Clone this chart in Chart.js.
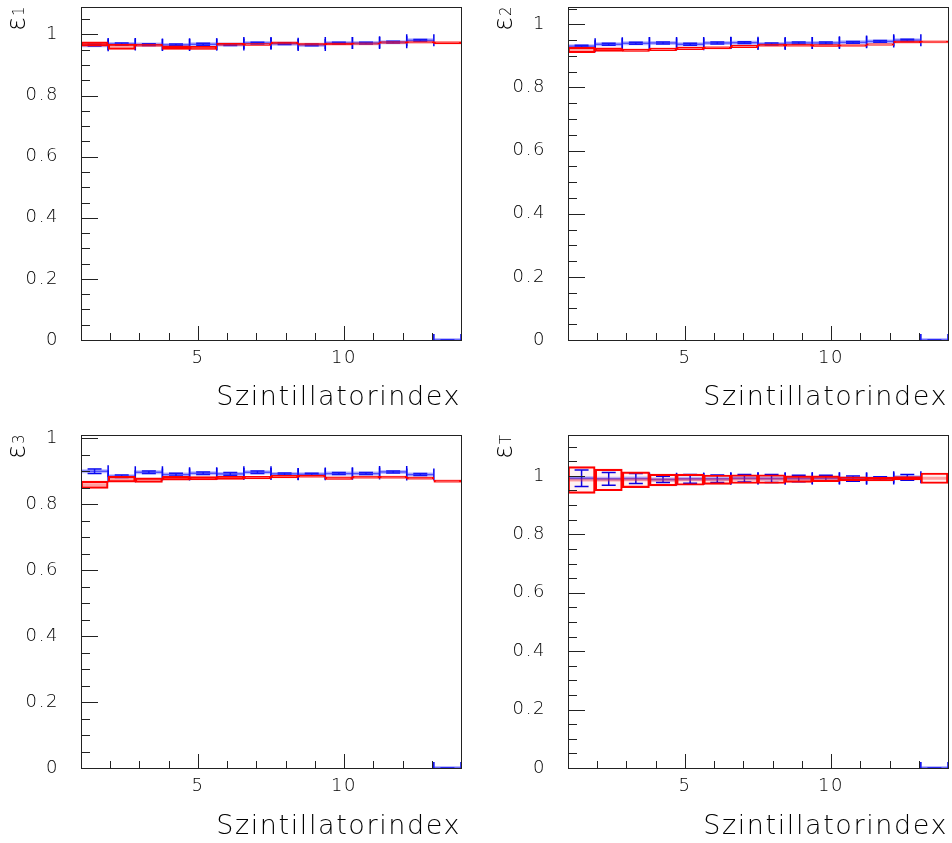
<!DOCTYPE html>
<html>
<head>
<meta charset="utf-8">
<script src="https://cdn.jsdelivr.net/npm/chart.js@4/dist/chart.umd.min.js"></script>
<style>
    html, body { margin: 0; padding: 0; background: #fff; }
    #wrap { position: relative; width: 952px; height: 843px; }
    .pane { position: absolute; width: 476px; }
</style>
</head>
<body>
<div id="wrap">
    <div class="pane" style="left:0;top:0;height:421px"><canvas id="c1"></canvas></div>
    <div class="pane" style="left:476px;top:0;height:421px"><canvas id="c2"></canvas></div>
    <div class="pane" style="left:0;top:421px;height:422px"><canvas id="c3"></canvas></div>
    <div class="pane" style="left:476px;top:421px;height:422px"><canvas id="c4"></canvas></div>
</div>
<script>
// histogram axis: 14 bins between 1 and 14
const X_MIN = 1;
const X_MAX = 14;
const N_BINS = 14;

const xTicks = [5, 10];
const yTicks = [0, 0.2, 0.4, 0.6, 0.8, 1];
const xTitle = 'Szintillatorindex';

// epsilon_1
const e1Blue = [0.965, 0.969, 0.967, 0.966, 0.968, 0.967, 0.972, 0.970, 0.966, 0.972, 0.972, 0.975, 0.981, 0];
const e1BlueErr = [0.003, 0.003, 0.003, 0.003, 0.003, 0.003, 0.003, 0.003, 0.003, 0.003, 0.003, 0.003, 0.003, 0];
const e1Red = [0.969, 0.960, 0.965, 0.957, 0.956, 0.968, 0.967, 0.972, 0.968, 0.969, 0.970, 0.974, 0.975, 0.973];
const e1RedErr = [0.007, 0.009, 0.003, 0.006, 0.005, 0.003, 0.003, 0.003, 0.002, 0.002, 0.002, 0.002, 0.002, 0.003];

// epsilon_2
const e2Blue = [0.931, 0.937, 0.940, 0.941, 0.937, 0.941, 0.942, 0.938, 0.941, 0.941, 0.943, 0.946, 0.950, 0];
const e2BlueErr = [0.003, 0.003, 0.003, 0.003, 0.003, 0.003, 0.003, 0.003, 0.003, 0.003, 0.003, 0.003, 0.003, 0];
const e2Red = [0.919, 0.920, 0.918, 0.921, 0.924, 0.926, 0.930, 0.934, 0.934, 0.933, 0.933, 0.936, 0.944, 0.945];
const e2RedErr = [0.009, 0.006, 0.004, 0.004, 0.004, 0.003, 0.004, 0.003, 0.003, 0.003, 0.002, 0.002, 0.002, 0.002];

// epsilon_3
const e3Blue = [0.900, 0.885, 0.897, 0.890, 0.894, 0.892, 0.897, 0.892, 0.891, 0.893, 0.893, 0.898, 0.890, 0];
const e3BlueErr = [0.007, 0.004, 0.004, 0.004, 0.004, 0.004, 0.004, 0.003, 0.003, 0.003, 0.003, 0.003, 0.003, 0];
const e3Red = [0.859, 0.876, 0.873, 0.879, 0.879, 0.880, 0.881, 0.884, 0.885, 0.879, 0.882, 0.882, 0.879, 0.870];
const e3RedErr = [0.011, 0.009, 0.007, 0.006, 0.005, 0.005, 0.004, 0.004, 0.003, 0.004, 0.003, 0.003, 0.003, 0.003];

// epsilon_T
const eTBlue = [0.992, 0.990, 0.991, 0.988, 0.990, 0.990, 0.992, 0.991, 0.991, 0.992, 0.991, 0.991, 0.995, 0];
const eTBlueErr = [0.028, 0.022, 0.017, 0.011, 0.015, 0.013, 0.013, 0.014, 0.011, 0.010, 0.009, 0.006, 0.010, 0];
const eTRed = [0.986, 0.986, 0.987, 0.986, 0.987, 0.987, 0.989, 0.989, 0.989, 0.990, 0.990, 0.989, 0.992, 0.992];
const eTRedErr = [0.046, 0.037, 0.027, 0.020, 0.019, 0.016, 0.015, 0.015, 0.011, 0.010, 0.007, 0.006, 0.006, 0.018];

const FONT = '"DejaVu Sans", sans-serif';
const TEXT = '#000';
const BLUE = '#0000ee';

const binEdge = (i) => X_MIN + (i * (X_MAX - X_MIN)) / N_BINS;
const binCenter = (i) => (binEdge(i) + binEdge(i + 1)) / 2;

// one flat segment per bin, no verticals in between
const flatSegments = (vals) => vals.flatMap((v, i) => [
    { x: binEdge(i), y: v }, { x: binEdge(i + 1), y: v }, { x: binEdge(i + 1), y: null },
]);

// ROOT-like frame, inside ticks, blue error bars and the y title
const rootStyle = {
    id: 'rootStyle',
    beforeDraw(chart) {
        chart.ctx.letterSpacing = '1.6px';
    },
    beforeDatasetsDraw(chart, args, opts) {
        const { ctx, chartArea: a, scales: { x, y } } = chart;
        ctx.save();
        ctx.beginPath();
        ctx.rect(a.left, a.top, a.right - a.left, a.bottom - a.top);
        ctx.clip();
        opts.blue.forEach((v, i) => {
            const x0 = x.getPixelForValue(binEdge(i));
            const x1 = x.getPixelForValue(binEdge(i + 1));
            const xc = (x0 + x1) / 2;
            const yv = y.getPixelForValue(v);
            const yl = y.getPixelForValue(v - opts.blueErr[i]);
            const yh = y.getPixelForValue(v + opts.blueErr[i]);
            ctx.strokeStyle = 'rgba(40,40,255,0.75)';
            ctx.lineWidth = 1.5;
            ctx.beginPath();
            ctx.moveTo(x0, yv); ctx.lineTo(x1, yv);
            ctx.stroke();
            ctx.strokeStyle = BLUE;
            ctx.beginPath();
            ctx.moveTo(x0, yv - 6); ctx.lineTo(x0, yv + 6);
            ctx.moveTo(x1, yv - 6); ctx.lineTo(x1, yv + 6);
            ctx.moveTo(xc, yl); ctx.lineTo(xc, yh);
            ctx.moveTo(xc - 7, yl); ctx.lineTo(xc + 7, yl);
            ctx.moveTo(xc - 7, yh); ctx.lineTo(xc + 7, yh);
            ctx.stroke();
        });
        ctx.restore();
    },
    afterDraw(chart, args, opts) {
        const { ctx, chartArea: a, scales: { x, y } } = chart;
        ctx.save();
        ctx.strokeStyle = '#222';
        ctx.lineWidth = 1;
        ctx.strokeRect(a.left + 0.5, a.top + 0.5, a.right - a.left, a.bottom - a.top);
        ctx.beginPath();
        for (let k = 0; k * 0.05 <= y.max + 1e-9; k++) {
            const py = Math.round(y.getPixelForValue(k * 0.05)) + 0.5;
            ctx.moveTo(a.left, py);
            ctx.lineTo(a.left + (k % 4 === 0 ? 17 : 9), py);
        }
        for (let v = Math.ceil(x.min); v <= x.max; v++) {
            if (v === x.min || v === x.max) continue;
            const px = Math.round(x.getPixelForValue(v)) + 0.5;
            ctx.moveTo(px, a.bottom);
            ctx.lineTo(px, a.bottom - (v % 5 === 0 ? 14 : 7));
        }
        ctx.stroke();

        // y title: epsilon with subscript, rotated
        ctx.translate(a.left - 56, a.top + 24);
        ctx.rotate(-Math.PI / 2);
        ctx.fillStyle = TEXT;
        ctx.letterSpacing = '0px';
        ctx.textBaseline = 'alphabetic';
        ctx.textAlign = 'left';
        ctx.font = '200 26px ' + FONT;
        ctx.fillText('ε', 0, 0);
        const w = ctx.measureText('ε').width;
        ctx.font = '200 15px ' + FONT;
        ctx.fillText(opts.sub, w + 1, -1);
        ctx.restore();
    },
};

function makePanel(p) {
    new Chart(document.getElementById(p.id), {
        type: 'bar',
        data: {
            datasets: [
                {
                    type: 'bar',
                    data: p.red.map((v, i) => ({ x: binCenter(i), y: [v - p.redErr[i], v + p.redErr[i]] })),
                    backgroundColor: 'rgba(255,0,0,0.05)',
                    borderColor: '#ff0000',
                    borderWidth: 1.5,
                    borderSkipped: false,
                    barPercentage: 1,
                    categoryPercentage: 1,
                    order: 1,
                },
                {
                    type: 'line',
                    data: flatSegments(p.red),
                    borderColor: 'rgba(255,40,40,0.4)',
                    borderWidth: 3,
                    pointRadius: 0,
                    spanGaps: false,
                    order: 2,
                },
                {
                    type: 'line',
                    data: flatSegments(p.blue),
                    borderColor: 'rgba(60,60,255,0.35)',
                    borderWidth: 4,
                    pointRadius: 0,
                    spanGaps: false,
                    order: 3,
                },
            ],
        },
        options: {
            responsive: true,
            maintainAspectRatio: false,
            animation: false,
            devicePixelRatio: 1,
            layout: { padding: { top: p.top, right: p.right, left: 0, bottom: 0 } },
            plugins: {
                legend: { display: false },
                tooltip: { enabled: false },
                rootStyle: { blue: p.blue, blueErr: p.blueErr, sub: p.sub },
            },
            scales: {
                x: {
                    type: 'linear',
                    min: X_MIN,
                    max: X_MAX,
                    offset: false,
                    grid: { display: false, drawTicks: false },
                    border: { display: false },
                    afterBuildTicks: (s) => { s.ticks = xTicks.map((v) => ({ value: v })); },
                    afterFit: (s) => {
                        s.height = p.xh;
                        s.paddingLeft = 0;
                        s.paddingRight = 0;
                    },
                    ticks: { color: TEXT, padding: 8, maxRotation: 0, font: { family: FONT, size: 18, weight: 200 } },
                    title: {
                        display: true,
                        text: xTitle,
                        align: 'end',
                        color: TEXT,
                        padding: { top: 0, bottom: p.tpad },
                        font: { family: FONT, size: 27, weight: 200, lineHeight: 1 },
                    },
                },
                y: {
                    min: 0,
                    max: p.yMax,
                    grid: { display: false, drawTicks: false },
                    border: { display: false },
                    afterBuildTicks: (s) => { s.ticks = yTicks.filter((v) => v <= s.max).map((v) => ({ value: v })); },
                    afterFit: (s) => {
                        s.width = p.yw;
                        s.paddingTop = 0;
                        s.paddingBottom = 0;
                    },
                    ticks: {
                        color: TEXT,
                        padding: 22,
                        font: { family: FONT, size: 18, weight: 200 },
                        callback: (v) => String(+v.toFixed(2)),
                    },
                },
            },
        },
        plugins: [rootStyle],
    });
}

[
    { id: 'c1', sub: '1', yMax: 1.09, blue: e1Blue, blueErr: e1BlueErr, red: e1Red, redErr: e1RedErr, top: 7, right: 15, yw: 81, xh: 81, tpad: 10 },
    { id: 'c2', sub: '2', yMax: 1.055, blue: e2Blue, blueErr: e2BlueErr, red: e2Red, redErr: e2RedErr, top: 7, right: 4, yw: 92, xh: 81, tpad: 10 },
    { id: 'c3', sub: '3', yMax: 1.01, blue: e3Blue, blueErr: e3BlueErr, red: e3Red, redErr: e3RedErr, top: 14, right: 15, yw: 81, xh: 75, tpad: 3 },
    { id: 'c4', sub: 'T', yMax: 1.14, blue: eTBlue, blueErr: eTBlueErr, red: eTRed, redErr: eTRedErr, top: 14, right: 4, yw: 92, xh: 75, tpad: 3 },
].forEach(makePanel);
</script>
</body>
</html>
